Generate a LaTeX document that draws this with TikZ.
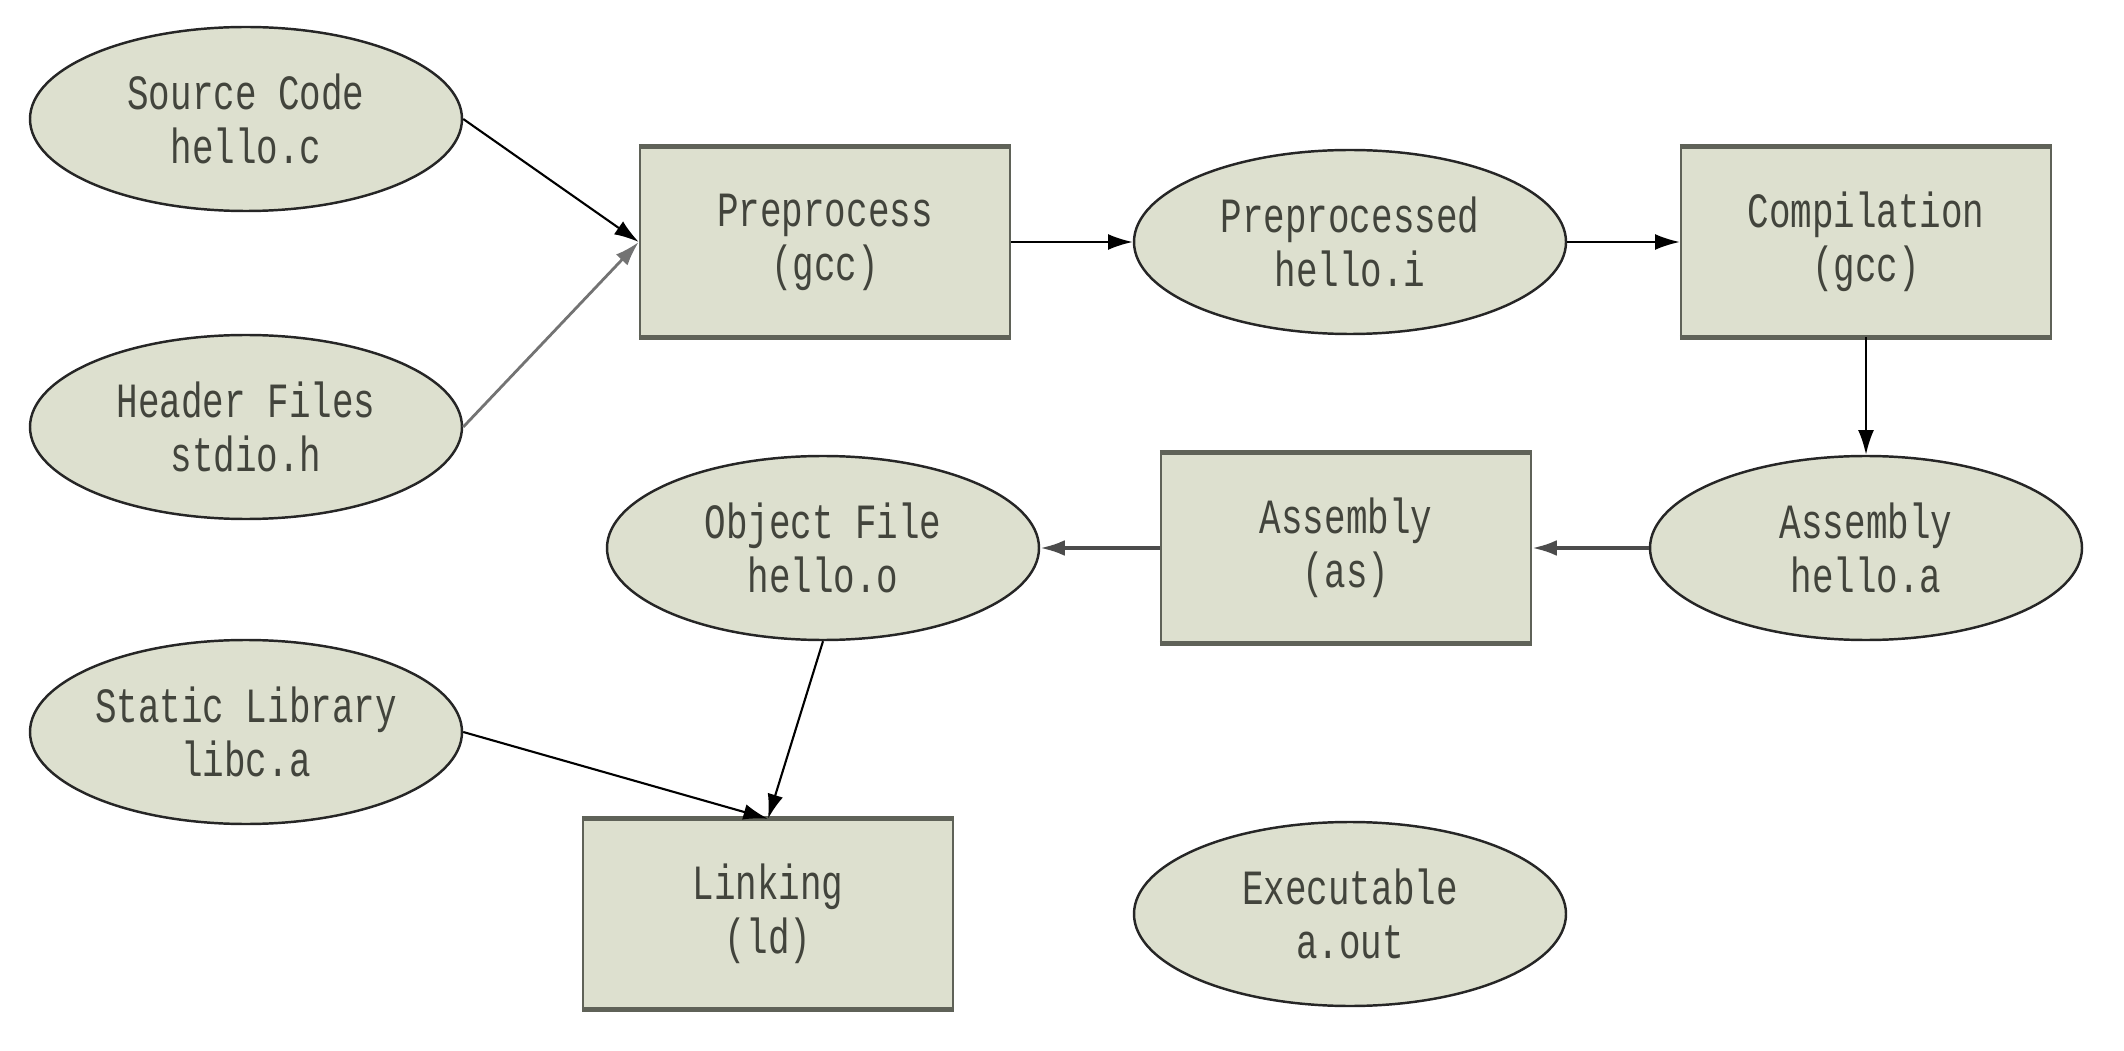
\documentclass[tikz,border=0pt]{standalone}
\usepackage{fontspec}
\newfontfamily\diagfont[FakeStretch=0.73]{Liberation Mono}
\usetikzlibrary{shapes.geometric}
\usetikzlibrary{arrows.meta}
\definecolor{nodefill}{RGB}{221,224,207}
\definecolor{boxline}{RGB}{95,98,88}
\definecolor{labeltext}{RGB}{66,68,60}

\begin{document}
\begin{tikzpicture}
  [>={Latex[length=7pt,width=4.5pt]},
  file/.style={ellipse,draw=black!85,line width=0.7pt,fill=nodefill,minimum width=4.32cm,minimum height=1.84cm,inner sep=0pt,align=center,text=labeltext,font=\diagfont\fontsize{14}{15.4}\selectfont},
  tool/.style={rectangle,draw=boxline,line width=0.7pt,fill=nodefill,minimum width=3.70cm,minimum height=1.88cm,inner sep=0pt,align=center,text=labeltext,font=\diagfont\fontsize{14}{15.4}\selectfont},
  toolrim/.style={boxline,line width=1.4pt},
  flow/.style={->,black,line width=0.6pt},
  greyflow/.style={->,black!55,line width=0.8pt},
  darkflow/.style={->,black!70,line width=1pt}]
  \useasboundingbox (0,0) rectangle (21.24,10.50);

  \node[file] (src) at (2.46,9.31) {Source Code\\hello.c};
  \node[file] (hdr) at (2.46,6.23) {Header Files\\stdio.h};
  \node[file] (lib) at (2.46,3.18) {Static Library\\libc.a};

  \node[tool] (pre) at (8.25,8.08) {Preprocess\\(gcc)};
  \node[file] (ppd) at (13.50,8.08) {Preprocessed\\hello.i};
  \node[tool] (comp) at (18.66,8.08) {Compilation\\(gcc)};

  \node[file] (obj) at (8.23,5.02) {Object File\\hello.o};
  \node[tool] (asm) at (13.46,5.02) {Assembly\\(as)};
  \node[file] (hla) at (18.66,5.02) {Assembly\\hello.a};

  \node[tool] (link) at (7.68,1.36) {Linking\\(ld)};
  \node[file] (exe) at (13.50,1.36) {Executable\\a.out};

  \foreach \n in {pre,comp,asm,link} {
    \draw[toolrim] (\n.north west) -- (\n.north east);
    \draw[toolrim] (\n.south west) -- (\n.south east);
  }

  \draw[flow] (src.east) -- (pre.west);
  \draw[greyflow] (hdr.east) -- (pre.west);
  \draw[flow] (pre.east) -- (ppd.west);
  \draw[flow] (ppd.east) -- (comp.west);
  \draw[flow] (comp.south) -- (hla.north);
  \draw[darkflow] (hla.west) -- (asm.east);
  \draw[darkflow] (asm.west) -- (obj.east);
  \draw[flow] (obj.south) -- (link.north);
  \draw[flow] (lib.east) -- (link.north);

\end{tikzpicture}
\end{document}
